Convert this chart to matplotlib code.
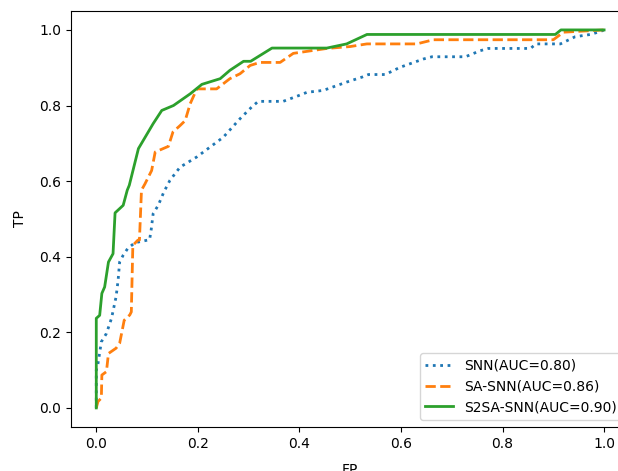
import numpy as np
import matplotlib.pyplot as plt

# ROC points
snn_fp = [0.0, 0.0, 0.003, 0.01, 0.02, 0.03, 0.039, 0.043, 0.046, 0.053, 0.062, 0.076,
          0.105, 0.108, 0.112, 0.122, 0.133, 0.145, 0.165, 0.198, 0.224, 0.25, 0.283,
          0.306, 0.319, 0.368, 0.398, 0.415, 0.447, 0.493, 0.523, 0.536, 0.569, 0.598,
          0.644, 0.661, 0.727, 0.756, 0.772, 0.855, 0.866, 0.914, 0.943, 0.973, 0.993, 1.0]
snn_tp = [0.0, 0.1, 0.114, 0.175, 0.197, 0.237, 0.294, 0.338, 0.386, 0.404, 0.422, 0.437,
          0.445, 0.47, 0.514, 0.536, 0.571, 0.602, 0.637, 0.664, 0.69, 0.716, 0.765,
          0.796, 0.811, 0.811, 0.826, 0.835, 0.84, 0.862, 0.875, 0.882, 0.882, 0.901,
          0.923, 0.929, 0.929, 0.945, 0.951, 0.951, 0.963, 0.963, 0.982, 0.988, 0.996, 1.0]

sa_fp = [0.0, 0.0034, 0.01, 0.011, 0.02, 0.024, 0.039, 0.046, 0.055, 0.066, 0.069, 0.072,
         0.082, 0.085, 0.089, 0.096, 0.109, 0.116, 0.142, 0.151, 0.165, 0.175, 0.185,
         0.198, 0.237, 0.263, 0.283, 0.303, 0.322, 0.362, 0.388, 0.454, 0.5, 0.533,
         0.631, 0.664, 0.9, 0.92, 1.0]
sa_tp = [0.0, 0.017, 0.026, 0.087, 0.096, 0.144, 0.158, 0.171, 0.232, 0.246, 0.254, 0.43,
         0.444, 0.444, 0.576, 0.593, 0.628, 0.677, 0.692, 0.73, 0.747, 0.76, 0.805,
         0.844, 0.844, 0.871, 0.884, 0.906, 0.914, 0.914, 0.938, 0.951, 0.956, 0.963,
         0.963, 0.974, 0.974, 0.994, 1.0]

s2sa_fp = [0.0, 0.0, 0.0067, 0.011, 0.0165, 0.024, 0.033, 0.037, 0.053, 0.061, 0.065,
           0.083, 0.112, 0.129, 0.152, 0.185, 0.208, 0.244, 0.263, 0.29, 0.304, 0.346,
           0.454, 0.493, 0.533, 0.904, 0.915, 1.0]
s2sa_tp = [0.0, 0.237, 0.245, 0.303, 0.32, 0.386, 0.408, 0.516, 0.536, 0.576, 0.589,
           0.686, 0.752, 0.787, 0.80, 0.831, 0.856, 0.871, 0.893, 0.917, 0.917, 0.952,
           0.952, 0.963, 0.988, 0.988, 1.0, 1.0]

labels = ['SNN(AUC=0.80)', 'SA-SNN(AUC=0.86)', 'S2SA-SNN(AUC=0.90)']

fig = plt.figure(figsize=(6.18, 4.71), dpi=100)
# axes run past the right edge of the picture, as in the reference crop
ax = fig.add_axes([0.1147, 0.0938, 0.9039, 0.8828])

ax.plot(snn_fp, snn_tp, ':', lw=2, label=labels[0])
ax.plot(sa_fp, sa_tp, '--', lw=2, label=labels[1])
ax.plot(s2sa_fp, s2sa_tp, '-', lw=2, label=labels[2])

ax.set_xlabel('FP', labelpad=9)
ax.set_ylabel('TP', labelpad=9)
ax.legend(loc='lower right')

fig.savefig('out.png', dpi=100)
